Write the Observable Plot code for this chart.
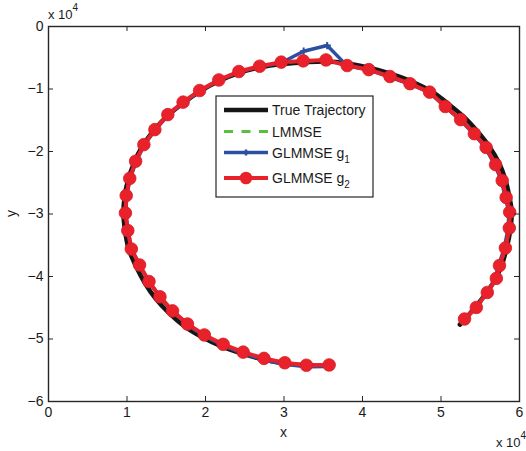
<!DOCTYPE html>
<html>
<head>
<meta charset="utf-8">
<script src="https://cdn.jsdelivr.net/npm/d3@7"></script>
<script src="https://cdn.jsdelivr.net/npm/@observablehq/plot@0.6"></script>
<style>
  html, body { margin: 0; padding: 0; background: white; }
</style>
</head>
<body>
<div id="chart"></div>
<script>
// Axis ticks
const xTicks = [0, 10000, 20000, 30000, 40000, 50000, 60000];
const yTicks = [0, -10000, -20000, -30000, -40000, -50000, -60000];

// True trajectory
const trueX = [52400, 53900, 55500, 56800, 57700, 58350, 58850, 59000, 58700, 58200, 57400, 56150, 54650, 52950, 50950, 48800, 46250, 43550, 40750, 38100, 35300, 32500, 29700, 26900, 24200, 21650, 19250, 17050, 15100, 13400, 11950, 10900, 10150, 9700, 9550, 9750, 10200, 11100, 12250, 13650, 15300, 17250, 19500, 21900, 24600, 27250, 30050, 32850, 35650];
const trueY = [-47700, -45600, -43100, -40700, -38300, -35550, -32350, -29600, -27200, -24500, -21850, -19200, -16800, -14500, -12400, -10400, -8800, -7550, -6550, -5900, -5600, -5750, -6000, -6550, -7450, -8750, -10400, -12350, -14350, -16650, -19150, -21800, -24500, -27200, -29950, -32650, -35550, -38250, -41000, -43550, -45800, -47900, -49650, -51100, -52300, -53250, -53900, -54200, -54300];

// LMMSE
const lmmseX = [53050, 54600, 55950, 57100, 57500, 58250, 58700, 58750, 58300, 57800, 56950, 55750, 54250, 52450, 50550, 48550, 46050, 43450, 40800, 38050, 35350, 32450, 29650, 26900, 24250, 21700, 19250, 17150, 15200, 13550, 12150, 11100, 10350, 9900, 9800, 10100, 10550, 11600, 12800, 14200, 15800, 17700, 19850, 22250, 24800, 27400, 30100, 32850, 35700];
const lmmseY = [-46900, -45050, -42600, -40300, -38300, -35450, -32250, -29700, -27350, -24650, -22100, -19350, -17150, -14900, -12800, -10550, -9150, -8000, -6900, -6250, -5400, -5550, -5750, -6400, -7250, -8550, -10250, -12150, -14100, -16500, -18900, -21550, -24300, -27050, -29850, -32650, -35600, -38150, -40800, -43250, -45500, -47600, -49400, -50850, -52150, -53150, -53850, -54250, -54200];

// GLMMSE g1
const g1X = [52950, 54400, 55750, 56900, 57300, 58050, 58550, 58650, 58200, 57700, 56850, 55650, 54200, 52450, 50550, 48550, 46000, 43450, 40800, 38050, 35500, 32500, 29650, 26900, 24250, 21700, 19300, 17200, 15250, 13600, 12200, 11150, 10400, 9950, 9850, 10150, 10600, 11650, 12850, 14250, 15850, 17750, 19900, 22250, 24800, 27400, 30050, 32850, 35700];
const g1Y = [-46850, -45000, -42650, -40400, -38350, -35500, -32300, -29750, -27400, -24700, -22150, -19400, -17200, -14950, -12850, -10600, -9200, -8100, -6950, -6300, -3050, -3950, -5800, -6450, -7300, -8600, -10300, -12200, -14150, -16550, -18950, -21650, -24350, -27100, -29900, -32750, -35700, -38300, -40950, -43400, -45650, -47800, -49550, -51050, -52350, -53350, -54050, -54450, -54400];

// GLMMSE g2
const g2X = [53000, 54500, 55900, 57050, 57450, 58200, 58700, 58750, 58300, 57800, 56950, 55750, 54250, 52500, 50550, 48550, 46050, 43500, 40800, 38050, 35350, 32450, 29650, 26900, 24250, 21700, 19250, 17150, 15200, 13550, 12150, 11100, 10350, 9900, 9800, 10100, 10550, 11600, 12800, 14200, 15800, 17700, 19850, 22250, 24800, 27450, 30100, 32850, 35750];
const g2Y = [-46800, -44950, -42550, -40300, -38250, -35450, -32250, -29700, -27350, -24650, -22100, -19350, -17150, -14900, -12800, -10500, -9150, -8000, -6900, -6250, -5350, -5500, -5700, -6350, -7200, -8550, -10250, -12100, -14100, -16500, -18900, -21550, -24300, -27050, -29850, -32650, -35600, -38150, -40800, -43250, -45500, -47600, -49350, -50850, -52100, -53100, -53800, -54200, -54150];

const legendLabels = ["True Trajectory", "LMMSE", "GLMMSE g", "GLMMSE g"];
const legendSubs = ["", "", "1", "2"];

const C_BLACK = "#161616", C_GREEN = "#5cbf3c", C_BLUE = "#2d4fa0", C_RED = "#e8212b";
const FONT = "'Liberation Sans', Arial, Helvetica, sans-serif";

const toPts = (xs, ys) => xs.map((x, i) => ({x, y: ys[i]}));
const trueData = toPts(trueX, trueY);
const lmmseData = toPts(lmmseX, lmmseY);
const g1Data = toPts(g1X, g1Y);
const g2Data = toPts(g2X, g2Y);

const W = 526, H = 451, mL = 48, mR = 7, mT = 26, mB = 50;
const fw = W - mL - mR, fh = H - mT - mB;
const tickLen = 5;

const chart = Plot.plot({
  width: W, height: H,
  marginLeft: mL, marginRight: mR, marginTop: mT, marginBottom: mB,
  style: {fontFamily: FONT, fontSize: "14px", color: "#1a1a1a", background: "white", overflow: "visible"},
  x: {domain: [0, 60000]},
  y: {domain: [-60000, 0]},
  marks: [
    Plot.line(trueData, {x: "x", y: "y", stroke: C_BLACK, strokeWidth: 4.5, curve: "catmull-rom"}),
    Plot.line(lmmseData, {x: "x", y: "y", stroke: C_GREEN, strokeWidth: 3, strokeDasharray: "9,6"}),
    Plot.line(g1Data, {x: "x", y: "y", stroke: C_BLUE, strokeWidth: 3.5}),
    Plot.dot(g1Data, {x: "x", y: "y", symbol: "plus", r: 2.5, stroke: C_BLUE, strokeWidth: 2}),
    Plot.line(g2Data, {x: "x", y: "y", stroke: C_RED, strokeWidth: 4}),
    Plot.dot(g2Data, {x: "x", y: "y", r: 6.3, fill: C_RED, stroke: "#d81e27", strokeWidth: 0.8}),
    Plot.frame({stroke: "#262626", strokeWidth: 1.4}),
    Plot.tickX(xTicks, {x: d => d, insetTop: fh - tickLen, stroke: "#262626"}),
    Plot.tickX(xTicks, {x: d => d, insetBottom: fh - tickLen, stroke: "#262626"}),
    Plot.tickY(yTicks, {y: d => d, insetRight: fw - tickLen, stroke: "#262626"}),
    Plot.tickY(yTicks, {y: d => d, insetLeft: fw - tickLen, stroke: "#262626"}),
    Plot.axisX({ticks: xTicks, tickSize: 0, tickPadding: 6, tickFormat: d => String(d / 1e4), label: null, fontSize: 14}),
    Plot.axisY({ticks: yTicks, tickSize: 0, tickPadding: 5, tickFormat: d => d === 0 ? "0" : "\u2212" + Math.abs(d / 1e4), label: null, fontSize: 14})
  ]
});

document.getElementById("chart").appendChild(chart);

const svg = d3.select(chart);
const ann = svg.append("g").attr("font-family", FONT).attr("fill", "#1a1a1a");

// axis labels
ann.append("text").attr("x", mL + fw / 2).attr("y", 437).attr("text-anchor", "middle").attr("font-size", 14).text("x");
ann.append("text").attr("transform", `translate(16,${mT + fh / 2}) rotate(-90)`).attr("text-anchor", "middle").attr("font-size", 14).text("y");

// exponent labels
function expLabel(x, y) {
  const t = ann.append("text").attr("x", x).attr("y", y).attr("font-size", 13).attr("text-anchor", "start");
  t.append("tspan").text("x 10");
  t.append("tspan").attr("dy", -8).attr("font-size", 10).text("4");
}
expLabel(48, 19);
expLabel(496, 447);

// legend
const lg = svg.append("g").attr("font-family", FONT);
const bx = 216, by = 96, bw = 157, bh = 101;
lg.append("rect").attr("x", bx).attr("y", by).attr("width", bw).attr("height", bh)
  .attr("fill", "white").attr("stroke", "#262626").attr("stroke-width", 1.2);
const rowsY = [110, 131.5, 152.5, 178];
const sx1 = 224, sx2 = 268, tx = 272;
// row 0: black
lg.append("line").attr("x1", sx1).attr("x2", sx2).attr("y1", rowsY[0]).attr("y2", rowsY[0]).attr("stroke", C_BLACK).attr("stroke-width", 4.5);
// row 1: green dashed
lg.append("line").attr("x1", sx1).attr("x2", sx2).attr("y1", rowsY[1]).attr("y2", rowsY[1]).attr("stroke", C_GREEN).attr("stroke-width", 3).attr("stroke-dasharray", "9,8.5");
// row 2: blue with plus
lg.append("line").attr("x1", sx1).attr("x2", sx2).attr("y1", rowsY[2]).attr("y2", rowsY[2]).attr("stroke", C_BLUE).attr("stroke-width", 3.5);
lg.append("path").attr("d", `M${(sx1 + sx2) / 2 - 3},${rowsY[2]}h6M${(sx1 + sx2) / 2},${rowsY[2] - 3}v6`).attr("stroke", C_BLUE).attr("stroke-width", 2.5);
// row 3: red with circle
lg.append("line").attr("x1", sx1).attr("x2", sx2).attr("y1", rowsY[3]).attr("y2", rowsY[3]).attr("stroke", C_RED).attr("stroke-width", 4);
lg.append("circle").attr("cx", (sx1 + sx2) / 2).attr("cy", rowsY[3]).attr("r", 6.3).attr("fill", C_RED);

legendLabels.forEach((lab, i) => {
  const t = lg.append("text").attr("x", tx).attr("y", rowsY[i] + 5).attr("font-size", 14).attr("fill", "#1a1a1a").attr("text-anchor", "start");
  t.append("tspan").text(lab);
  if (legendSubs[i]) t.append("tspan").attr("dy", 5).attr("font-size", 10).text(legendSubs[i]);
});
</script>
</body>
</html>
